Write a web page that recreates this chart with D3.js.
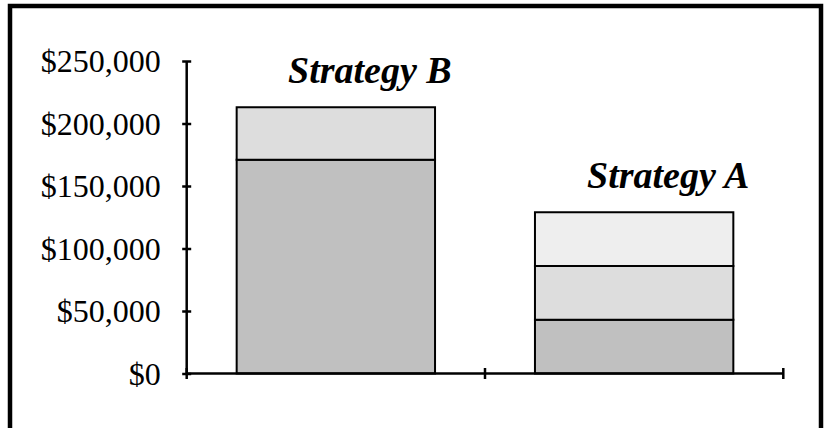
<!DOCTYPE html>
<html>
<head>
<meta charset="utf-8">
<script src="https://cdn.jsdelivr.net/npm/d3@7"></script>
<style>
  html, body { margin: 0; padding: 0; background: #fff; }
  svg { display: block; }
</style>
</head>
<body>
<svg id="chart" width="826" height="428"></svg>
<script>
// ---- data ----
const categories = ["Strategy B", "Strategy A"];
const seriesNames = ["s1", "s2", "s3"];
const s1 = [171000, 43000];
const s2 = [42000, 43000];
const s3 = [0, 43000];
const yTicks = [0, 50000, 100000, 150000, 200000, 250000];
const labels = ["Strategy B", "Strategy A"];

const colors = ["#C0C0C0", "#DDDDDD", "#EEEEEE"];

const svg = d3.select("#chart");

// outer frame
svg.append("rect")
  .attr("x", 10).attr("y", 6)
  .attr("width", 811).attr("height", 460)
  .attr("fill", "none").attr("stroke", "#000").attr("stroke-width", 4.5);

const x0 = 186.7, x1 = 783.3, yTop = 61, yBot = 373.5;

const x = d3.scaleBand().domain(categories).range([x0, x1])
  .paddingInner(0.335).paddingOuter(0.1675);
const y = d3.scaleLinear().domain([0, 250000]).range([yBot, yTop]);

const rows = categories.map((c, i) => ({ cat: c, s1: s1[i], s2: s2[i], s3: s3[i] }));
const stack = d3.stack().keys(seriesNames)(rows);

const g = svg.append("g");
stack.forEach((layer, li) => {
  g.selectAll(null).data(layer.filter(d => d[1] - d[0] > 0)).enter().append("rect")
    .attr("x", d => x(d.data.cat))
    .attr("width", x.bandwidth())
    .attr("y", d => y(d[1]))
    .attr("height", d => y(d[0]) - y(d[1]))
    .attr("fill", colors[li])
    .attr("stroke", "#000").attr("stroke-width", 2);
});

const serif = "Liberation Serif, Times New Roman, Times, serif";

// y axis
const yAxis = d3.axisLeft(y).tickValues(yTicks)
  .tickSize(0).tickPadding(0)
  .tickFormat(d => "$" + d3.format(",")(d));
const ya = svg.append("g").attr("transform", `translate(${x0},0)`).call(yAxis);
ya.select(".domain").attr("stroke", "#000").attr("stroke-width", 2.5).attr("d", `M0,${yTop}V${yBot}`);
ya.selectAll(".tick line").remove();
ya.selectAll(".tick").append("line").attr("x1", -4.5).attr("x2", 4.5).attr("stroke", "#000").attr("stroke-width", 2.5);
ya.selectAll(".tick text")
  .attr("x", -26).attr("dy", "0.34em")
  .attr("font-family", serif)
  .attr("font-size", 32).attr("fill", "#000")
  .attr("text-anchor", "end");

// x axis
const xa = svg.append("g").attr("transform", `translate(0,${yBot})`);
xa.append("path").attr("d", `M${x0},0H${x1}`).attr("stroke", "#000").attr("stroke-width", 2.5);
const xTickPos = [x0, (x0 + x1) / 2, x1];
xa.selectAll(null).data(xTickPos).enter().append("line")
  .attr("x1", d => d).attr("x2", d => d).attr("y1", -5.5).attr("y2", 5.5)
  .attr("stroke", "#000").attr("stroke-width", 2.5);

// labels
svg.selectAll(null).data(rows).enter().append("text")
  .attr("x", d => x(d.cat) + x.bandwidth() / 2 + 34)
  .attr("y", d => y(d.s1 + d.s2 + d.s3) - 24)
  .attr("text-anchor", "middle")
  .attr("font-family", serif)
  .attr("font-weight", "bold").attr("font-style", "italic")
  .attr("font-size", 38).attr("fill", "#000")
  .text((d, i) => labels[i]);
</script>
</body>
</html>
